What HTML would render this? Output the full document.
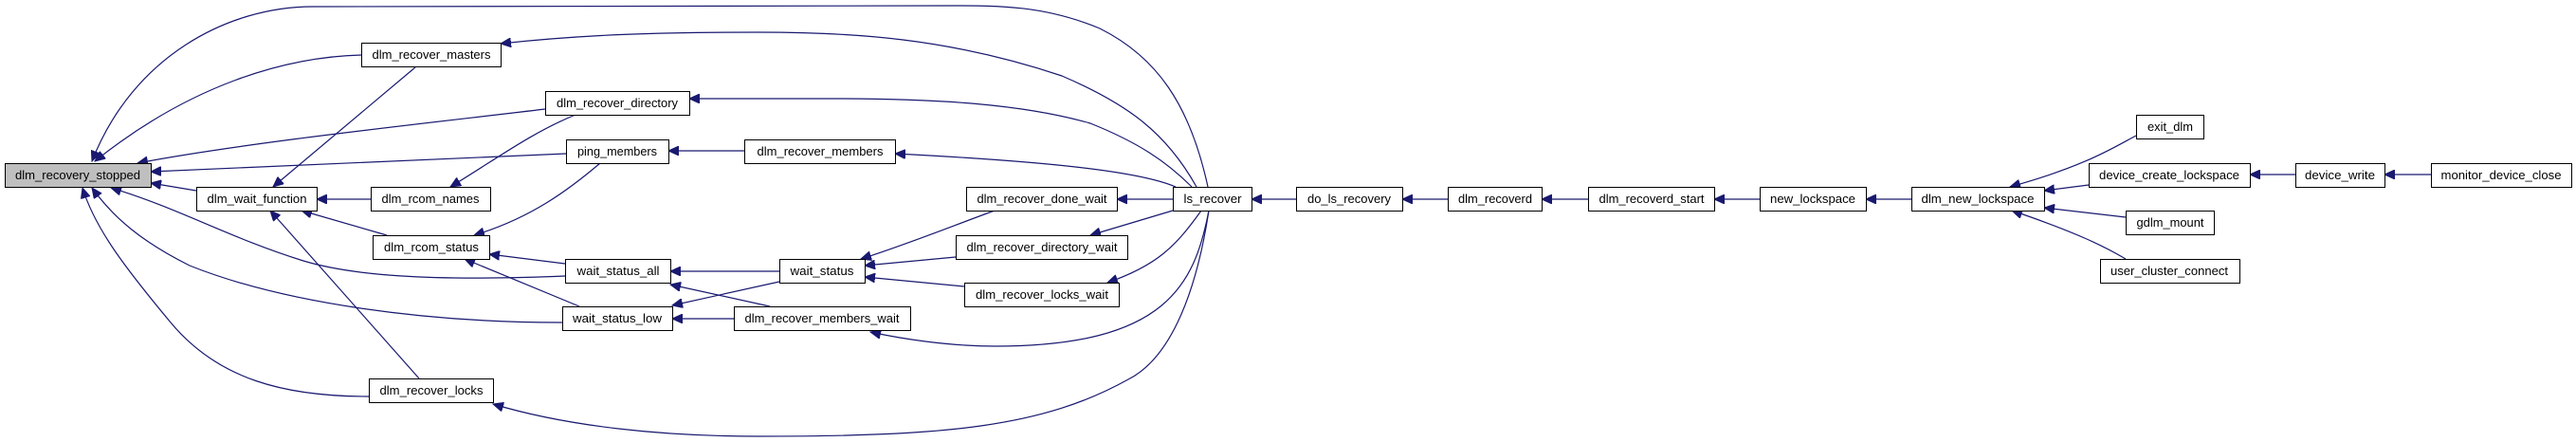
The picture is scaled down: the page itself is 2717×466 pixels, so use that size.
<!DOCTYPE html>
<html><head><meta charset="utf-8"><style>
html,body{margin:0;padding:0;background:#fff;}
svg{display:block;}
text{font-family:"Liberation Sans",sans-serif;font-size:13px;fill:#000;}
</style></head><body>
<svg width="2717" height="466" viewBox="0 0 2717 466" xmlns="http://www.w3.org/2000/svg">
<defs>
<marker id="a" markerUnits="userSpaceOnUse" markerWidth="12" markerHeight="10" refX="11" refY="5" orient="auto">
<path d="M0,0 L11,5 L0,10 Z" fill="#191970" stroke="#191970"/>
</marker>
</defs>
<g fill="none" stroke="#191970" stroke-width="1.2" marker-end="url(#a)">
<path d="M1274,197 C1255,110 1220,60 1160,30 C1100,5 1050,6 1000,6 L330,7 C240,7 140,60 97,170"/>
<path d="M1262,197 C1230,140 1190,110 1120,80 C1000,40 900,34 800,34 C700,34 620,36 528,46"/>
<path d="M381,58 C300,60 200,90 100,170"/>
<path d="M1257,197 C1230,170 1200,150 1150,130 C1080,110 990,104 880,104 L727,104"/>
<path d="M575,115 C450,130 260,150 145,172"/>
<path d="M597,162 L159,181"/>
<path d="M785,159 L705,159"/>
<path d="M1240,197 C1200,180 1100,170 944,162"/>
<path d="M207,201 L159,193"/>
<path d="M438,71 L288,197"/>
<path d="M391,210 L334,210"/>
<path d="M607,121 C560,140 520,170 475,197"/>
<path d="M408,248 L318,222"/>
<path d="M442,399 L285,222"/>
<path d="M633,172 C600,200 560,230 500,248"/>
<path d="M596,278 L516,268"/>
<path d="M611,323 L490,273"/>
<path d="M596,291 C450,297 370,290 320,275 C240,250 190,220 117,198"/>
<path d="M593,340 C450,340 300,320 200,280 C150,255 120,230 97,198"/>
<path d="M389,418 C300,418 230,400 180,340 C130,280 100,240 87,198"/>
<path d="M822,286 L707,286"/>
<path d="M822,297 L709,322"/>
<path d="M774,336 L709,336"/>
<path d="M812,323 L707,300"/>
<path d="M1049,222 C1000,240 950,260 908,273"/>
<path d="M1008,271 L912,280"/>
<path d="M1017,302 L912,292"/>
<path d="M1237,210 L1178,210"/>
<path d="M1237,222 L1150,248"/>
<path d="M1267,222 C1240,260 1220,280 1168,298"/>
<path d="M1275,222 C1260,300 1230,365 1050,365 C1000,365 950,357 918,350"/>
<path d="M1275,222 C1260,320 1230,380 1190,400 C1100,450 1000,460 800,460 C700,460 600,450 520,426"/>
<path d="M1367,210 L1320,210"/>
<path d="M1527,210 L1479,210"/>
<path d="M1675,210 L1626,210"/>
<path d="M1856,210 L1808,210"/>
<path d="M2016,210 L1968,210"/>
<path d="M2253,143 C2230,155 2200,175 2120,197"/>
<path d="M2203,195 L2156,201"/>
<path d="M2242,229 L2156,219"/>
<path d="M2242,273 C2220,260 2190,245 2122,222"/>
<path d="M2421,184 L2373,184"/>
<path d="M2564,184 L2515,184"/>
</g>
<g stroke="#000" stroke-width="1" fill="#fff">
<rect x="5.5" y="172.5" width="154" height="25" fill="#bfbfbf"/>
<rect x="381.5" y="45.5" width="147" height="25"/>
<rect x="575.5" y="96.5" width="152" height="25"/>
<rect x="597.5" y="147.5" width="108" height="25"/>
<rect x="207.5" y="197.5" width="127" height="25"/>
<rect x="391.5" y="197.5" width="126" height="25"/>
<rect x="393.5" y="248.5" width="123" height="25"/>
<rect x="596.5" y="273.5" width="111" height="25"/>
<rect x="593.5" y="323.5" width="116" height="25"/>
<rect x="389.5" y="399.5" width="131" height="25"/>
<rect x="785.5" y="147.5" width="159" height="25"/>
<rect x="822.5" y="273.5" width="90" height="25"/>
<rect x="774.5" y="323.5" width="186" height="25"/>
<rect x="1019.5" y="197.5" width="159" height="25"/>
<rect x="1008.5" y="248.5" width="181" height="25"/>
<rect x="1017.5" y="298.5" width="163" height="25"/>
<rect x="1237.5" y="197.5" width="83" height="25"/>
<rect x="1367.5" y="197.5" width="112" height="25"/>
<rect x="1527.5" y="197.5" width="99" height="25"/>
<rect x="1675.5" y="197.5" width="133" height="25"/>
<rect x="1856.5" y="197.5" width="112" height="25"/>
<rect x="2016.5" y="197.5" width="140" height="25"/>
<rect x="2253.5" y="121.5" width="71" height="25"/>
<rect x="2203.5" y="172.5" width="170" height="25"/>
<rect x="2421.5" y="172.5" width="94" height="25"/>
<rect x="2564.5" y="172.5" width="148" height="25"/>
<rect x="2242.5" y="222.5" width="93" height="25"/>
<rect x="2215.5" y="273.5" width="147" height="25"/>
</g>
<g text-anchor="middle" lengthAdjust="spacingAndGlyphs">
<text x="82" y="189" textLength="132" lengthAdjust="spacingAndGlyphs">dlm_recovery_stopped</text>
<text x="455" y="62" textLength="125" lengthAdjust="spacingAndGlyphs">dlm_recover_masters</text>
<text x="651" y="113" textLength="128" lengthAdjust="spacingAndGlyphs">dlm_recover_directory</text>
<text x="651" y="164" textLength="84" lengthAdjust="spacingAndGlyphs">ping_members</text>
<text x="271" y="214" textLength="105" lengthAdjust="spacingAndGlyphs">dlm_wait_function</text>
<text x="454" y="214" textLength="103" lengthAdjust="spacingAndGlyphs">dlm_rcom_names</text>
<text x="455" y="265" textLength="100" lengthAdjust="spacingAndGlyphs">dlm_rcom_status</text>
<text x="652" y="290" textLength="87" lengthAdjust="spacingAndGlyphs">wait_status_all</text>
<text x="651" y="340" textLength="94" lengthAdjust="spacingAndGlyphs">wait_status_low</text>
<text x="455" y="416" textLength="109" lengthAdjust="spacingAndGlyphs">dlm_recover_locks</text>
<text x="865" y="164" textLength="133" lengthAdjust="spacingAndGlyphs">dlm_recover_members</text>
<text x="867" y="290" textLength="67" lengthAdjust="spacingAndGlyphs">wait_status</text>
<text x="867" y="340" textLength="163" lengthAdjust="spacingAndGlyphs">dlm_recover_members_wait</text>
<text x="1099" y="214" textLength="137" lengthAdjust="spacingAndGlyphs">dlm_recover_done_wait</text>
<text x="1099" y="265" textLength="159" lengthAdjust="spacingAndGlyphs">dlm_recover_directory_wait</text>
<text x="1099" y="315" textLength="140" lengthAdjust="spacingAndGlyphs">dlm_recover_locks_wait</text>
<text x="1279" y="214" textLength="61" lengthAdjust="spacingAndGlyphs">ls_recover</text>
<text x="1423" y="214" textLength="88" lengthAdjust="spacingAndGlyphs">do_ls_recovery</text>
<text x="1577" y="214" textLength="78" lengthAdjust="spacingAndGlyphs">dlm_recoverd</text>
<text x="1742" y="214" textLength="111" lengthAdjust="spacingAndGlyphs">dlm_recoverd_start</text>
<text x="1912" y="214" textLength="90" lengthAdjust="spacingAndGlyphs">new_lockspace</text>
<text x="2086" y="214" textLength="119" lengthAdjust="spacingAndGlyphs">dlm_new_lockspace</text>
<text x="2289" y="138" textLength="48" lengthAdjust="spacingAndGlyphs">exit_dlm</text>
<text x="2288" y="189" textLength="148" lengthAdjust="spacingAndGlyphs">device_create_lockspace</text>
<text x="2468" y="189" textLength="74" lengthAdjust="spacingAndGlyphs">device_write</text>
<text x="2638" y="189" textLength="127" lengthAdjust="spacingAndGlyphs">monitor_device_close</text>
<text x="2289" y="239" textLength="71" lengthAdjust="spacingAndGlyphs">gdlm_mount</text>
<text x="2288" y="290" textLength="124" lengthAdjust="spacingAndGlyphs">user_cluster_connect</text>
</g>
</svg>
</body></html>
